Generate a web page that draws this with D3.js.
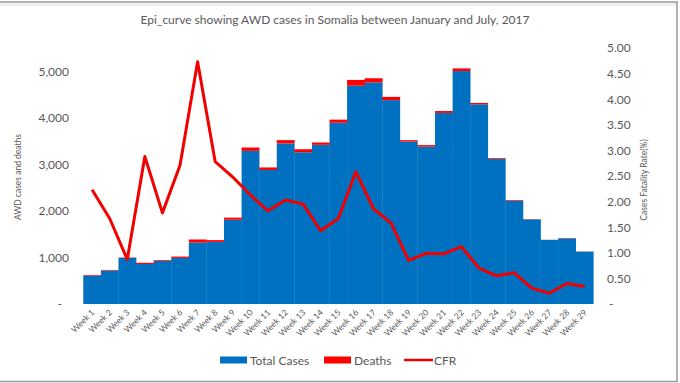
<!DOCTYPE html>
<html>
<head>
<meta charset="utf-8">
<script src="https://cdn.jsdelivr.net/npm/d3@7"></script>
<style>
  body { margin: 0; background: #fff; }
  text { font-family: Lato, "Open Sans", "Liberation Sans", sans-serif; fill: #595959; }
</style>
</head>
<body>
<script>
// data
var weeks = ["Week 1","Week 2","Week 3","Week 4","Week 5","Week 6","Week 7","Week 8","Week 9","Week 10",
             "Week 11","Week 12","Week 13","Week 14","Week 15","Week 16","Week 17","Week 18","Week 19","Week 20",
             "Week 21","Week 22","Week 23","Week 24","Week 25","Week 26","Week 27","Week 28","Week 29"];
var cases  = [610, 720, 990, 860, 925, 990, 1320, 1335, 1810, 3290,
              2880, 3450, 3260, 3420, 3895, 4690, 4760, 4380, 3490, 3380,
              4105, 5005, 4290, 3115, 2220, 1818, 1377, 1410, 1125];
var deaths = [14, 12, 9, 26, 17, 28, 66, 38, 46, 72,
              53, 71, 65, 50, 66, 124, 90, 70, 30, 34,
              41, 57, 30, 17, 14, 6, 3, 6, 4];
var cfr    = [2.23, 1.67, 0.87, 2.88, 1.78, 2.71, 4.73, 2.78, 2.48, 2.13,
              1.82, 2.03, 1.95, 1.43, 1.67, 2.58, 1.86, 1.58, 0.85, 0.99,
              0.98, 1.12, 0.70, 0.55, 0.61, 0.31, 0.21, 0.40, 0.34];
var leftTicks  = [0, 1000, 2000, 3000, 4000, 5000];
var rightTicks = [0, 0.5, 1, 1.5, 2, 2.5, 3, 3.5, 4, 4.5, 5];

var width = 680, height = 383;
var blue = "#0070c0", red = "#ff0000";

var svg = d3.select("body").append("svg")
    .attr("width", width)
    .attr("height", height);

// frame
svg.append("rect").attr("x", 0).attr("y", 3).attr("width", 677).attr("height", 3).style("fill", "#efefef");
svg.append("line").attr("x1", 0).attr("x2", 678).attr("y1", 2).attr("y2", 2).style("stroke", "#9a9a9a").style("stroke-width", 1.5);
svg.append("line").attr("x1", 677).attr("x2", 677).attr("y1", 2).attr("y2", 382).style("stroke", "#9a9a9a").style("stroke-width", 1.5);
svg.append("line").attr("x1", 0).attr("x2", 678).attr("y1", 381.5).attr("y2", 381.5).style("stroke", "#9a9a9a").style("stroke-width", 1.5);

var x = d3.scaleBand().domain(weeks).range([83.3, 593.3]).padding(0);
var yL = d3.scaleLinear().domain([0, 5500]).range([304, 48]);
var yR = d3.scaleLinear().domain([0, 5]).range([304, 48]);

// title
svg.append("text")
    .attr("x", 335).attr("y", 24)
    .attr("text-anchor", "middle")
    .style("font-size", "12px")
    .text("Epi_curve showing AWD cases in Somalia between January and July, 2017");

// bars
var bars = svg.append("g").attr("class", "bars");
bars.selectAll("rect.cases")
    .data(weeks)
  .enter().append("rect")
    .attr("class", "cases")
    .attr("x", function(d) { return x(d); })
    .attr("width", x.bandwidth() + 0.3)
    .attr("y", function(d, i) { return yL(cases[i]); })
    .attr("height", function(d, i) { return yL(0) - yL(cases[i]); })
    .style("fill", blue);
bars.selectAll("rect.deaths")
    .data(weeks)
  .enter().append("rect")
    .attr("class", "deaths")
    .attr("x", function(d) { return x(d); })
    .attr("width", x.bandwidth() + 0.3)
    .attr("y", function(d, i) { return yL(cases[i] + deaths[i]); })
    .attr("height", function(d, i) { return yL(cases[i]) - yL(cases[i] + deaths[i]); })
    .style("fill", red);

// cfr line
var line = d3.line()
    .x(function(d, i) { return x(weeks[i]) + x.bandwidth() / 2; })
    .y(function(d) { return yR(d); });
svg.append("path")
    .datum(cfr)
    .attr("d", line)
    .style("fill", "none")
    .style("stroke", "#f20000")
    .style("stroke-width", 3)
    .style("stroke-linejoin", "round");

// left axis
var gl = svg.append("g").attr("transform", "translate(69,0)")
    .call(d3.axisLeft(yL).tickValues(leftTicks).tickSize(0).tickPadding(0)
      .tickFormat(function(d) { return d === 0 ? "-" : d3.format(",")(d); }));
gl.select(".domain").remove();
gl.selectAll("text").style("font-size", "12px").style("fill", "#595959").style("font-family", null)
  .attr("dx", function(d) { return d === 0 ? -7 : 0; });

// right axis
var gr = svg.append("g").attr("transform", "translate(607,0)")
    .call(d3.axisRight(yR).tickValues(rightTicks).tickSize(0).tickPadding(0)
      .tickFormat(function(d) { return d === 0 ? "-" : d3.format(".2f")(d); }));
gr.select(".domain").remove();
gr.selectAll("text").style("font-size", "12px").style("fill", "#595959").style("font-family", null)
  .attr("dx", function(d) { return d === 0 ? 2 : 0; });

// axis titles
svg.append("text")
    .attr("transform", "translate(21,177) rotate(-90)")
    .attr("text-anchor", "middle")
    .style("font-size", "8.5px")
    .text("AWD cases and deaths");
svg.append("text")
    .attr("transform", "translate(647,180) rotate(-90)")
    .attr("text-anchor", "middle")
    .style("font-size", "8.5px")
    .text("Cases Fatality Rate(%)");

// week labels
svg.append("g").selectAll("text")
    .data(weeks)
  .enter().append("text")
    .attr("transform", function(d) { return "translate(" + (x(d) + x.bandwidth() / 2 + 3) + ",313) rotate(-45)"; })
    .attr("text-anchor", "end")
    .style("font-size", "8.5px")
    .text(function(d) { return d; });

// legend
var legend = svg.append("g");
legend.append("rect").attr("x", 220).attr("y", 356.5).attr("width", 27).attr("height", 7).style("fill", blue);
legend.append("text").attr("x", 250).attr("y", 364.5).style("font-size", "12px").text("Total Cases");
legend.append("rect").attr("x", 324).attr("y", 356.5).attr("width", 27).attr("height", 7).style("fill", red);
legend.append("text").attr("x", 354).attr("y", 364.5).style("font-size", "12px").text("Deaths");
legend.append("line").attr("x1", 404).attr("x2", 433).attr("y1", 360).attr("y2", 360).style("stroke", "#f20000").style("stroke-width", 2.5);
legend.append("text").attr("x", 434).attr("y", 364.5).style("font-size", "12px").text("CFR");
</script>
</body>
</html>
